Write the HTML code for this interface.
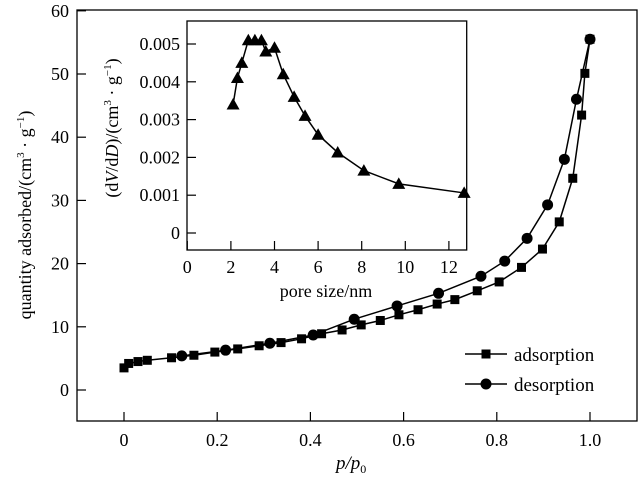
<!DOCTYPE html>
<html><head><meta charset="utf-8"><style>
body{margin:0;background:#fff;}
svg{display:block;font-family:"Liberation Serif",serif;}
</style></head><body>
<svg id="c" width="638" height="479" xmlns="http://www.w3.org/2000/svg"></svg>
<script>
const adsP=[0,0.01,0.03,0.05,0.102,0.15,0.195,0.244,0.29,0.337,0.381,0.424,0.468,0.509,0.55,0.59,0.631,0.672,0.71,0.758,0.805,0.853,0.898,0.934,0.963,0.982,0.989,1.0];
const adsV=[3.5,4.2,4.5,4.7,5.1,5.5,6.0,6.5,7.0,7.5,8.1,8.9,9.5,10.3,11.0,11.9,12.7,13.6,14.3,15.7,17.1,19.4,22.3,26.6,33.5,43.5,50.1,55.5];
const desP=[1.0,0.971,0.945,0.909,0.865,0.817,0.766,0.675,0.586,0.494,0.406,0.313,0.218,0.124];
const desV=[55.5,46.0,36.5,29.3,24.0,20.4,18.0,15.3,13.3,11.2,8.7,7.4,6.3,5.4];
const xTicks=["0","0.2","0.4","0.6","0.8","1.0"];
const yTicks=["0","10","20","30","40","50","60"];
const poreD=[2.1,2.3,2.5,2.8,3.1,3.4,3.6,4.0,4.4,4.9,5.4,6.0,6.9,8.1,9.7,12.7];
const poreV=[0.0034,0.0041,0.0045,0.0051,0.0051,0.0051,0.0048,0.0049,0.0042,0.0036,0.0031,0.0026,0.00213,0.00165,0.0013,0.00106];
const inXTicks=["0","2","4","6","8","10","12"];
const inYTicks=["0","0.001","0.002","0.003","0.004","0.005"];

const NS="http://www.w3.org/2000/svg";
const svg=document.getElementById('c');
function mk(t,a,p){const e=document.createElementNS(NS,t);for(const k in a)e.setAttribute(k,a[k]);(p||svg).appendChild(e);return e;}
const X=v=>124+(v)*466, Y=v=>390-v*6.32;
const IX=v=>187.3+v*21.8, IY=v=>233-v*37800;

// main frame
let f=mk('rect',{x:77,y:10,width:560,height:411,fill:'none',stroke:'#000','stroke-width':1.3});


xTicks.forEach(t=>{const v=parseFloat(t),x=X(v);
 const l=mk('line',{x1:x,x2:x,y1:421,y2:412,stroke:'#000','stroke-width':1.2});
 
 
 const tx=mk('text',{x:x,y:446,'font-size':18,'text-anchor':'middle'});tx.textContent=t;
 
 });
yTicks.forEach(t=>{const v=parseFloat(t),y=Y(v);
 const l=mk('line',{x1:77,x2:86,y1:y,y2:y,stroke:'#000','stroke-width':1.2});
 
 
 const tx=mk('text',{x:69,y:y+6,'font-size':18,'text-anchor':'end'});tx.textContent=t;
 
 });
function series(px,py,fx,fy,name,shape){
 const g=mk('g',{});
 
 
 mk('polyline',{points:px.map((p,i)=>fx(p)+','+fy(py[i])).join(' '),fill:'none',stroke:'#000','stroke-width':1.5},g);
 px.forEach((p,i)=>{const x=fx(p),y=fy(py[i]);let m;
  if(shape==='sq')m=mk('rect',{x:x-4.5,y:y-4.5,width:9,height:9,fill:'#000'},g);
  else if(shape==='ci')m=mk('circle',{cx:x,cy:y,r:5.5,fill:'#000'},g);
  else m=mk('polygon',{points:`${x},${y-6.5} ${x-6.5},${y+5} ${x+6.5},${y+5}`,fill:'#000'},g);
  
  });
}
series(adsP,adsV,X,Y,'adsorption-series','sq');
series(desP,desV,X,Y,'desorption-series','ci');

// axis titles
let yt=mk('text',{transform:'translate(31,215) rotate(-90)','font-size':18,'text-anchor':'middle'});
yt.innerHTML='quantity adsorbed/(cm<tspan font-size="11" dy="-7">3</tspan><tspan dy="7"> · g</tspan><tspan font-size="11" dy="-7">−1</tspan><tspan dy="7">)</tspan>';


let xt=mk('text',{x:336,y:469,'font-size':19,'font-style':'italic'});
xt.innerHTML='p/p<tspan font-size="12" dy="4" font-style="normal">0</tspan>';



// legend
[['adsorption',354,'sq'],['desorption',384,'ci']].forEach(([n,y,s])=>{
 const g=mk('g',{});
 
 
 mk('line',{x1:465,x2:507,y1:y,y2:y,stroke:'#000','stroke-width':1.5},g);
 if(s==='sq')mk('rect',{x:481.5,y:y-4.5,width:9,height:9,fill:'#000'},g);else mk('circle',{cx:486,cy:y,r:5.5,fill:'#000'},g);
 const t=mk('text',{x:514,y:y+7,'font-size':19},g);t.textContent=n;});

// inset
const ins=mk('rect',{x:187,y:21,width:279.7,height:229,fill:'#fff',stroke:'#000','stroke-width':1.3});


inXTicks.forEach(t=>{const v=parseFloat(t),x=IX(v);
 const l=mk('line',{x1:x,x2:x,y1:250,y2:241,stroke:'#000','stroke-width':1.2});
 
 
 const tx=mk('text',{x:x,y:273,'font-size':18,'text-anchor':'middle'});tx.textContent=t;
 
 });
inYTicks.forEach(t=>{const v=parseFloat(t),y=IY(v);
 const l=mk('line',{x1:187,x2:196,y1:y,y2:y,stroke:'#000','stroke-width':1.2});
 
 
 const tx=mk('text',{x:180,y:y+6,'font-size':18,'text-anchor':'end'});tx.textContent=t;
 
 });
series(poreD,poreV,IX,IY,'pore-size-distribution','tri');
let ixt=mk('text',{x:326,y:297,'font-size':18,'text-anchor':'middle'});ixt.textContent='pore size/nm';


let iyt=mk('text',{transform:'translate(118,128) rotate(-90)','font-size':18,'text-anchor':'middle'});
iyt.innerHTML='(d<tspan font-style="italic">V</tspan>/d<tspan font-style="italic">D</tspan>)/(cm<tspan font-size="11" dy="-7">3</tspan><tspan dy="7"> · g</tspan><tspan font-size="11" dy="-7">−1</tspan><tspan dy="7">)</tspan>';


</script>
</body></html>
